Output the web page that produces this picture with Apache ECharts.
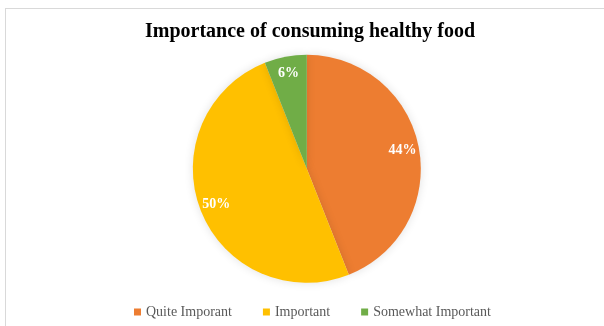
<!DOCTYPE html>
<html>
<head>
<meta charset="utf-8">
<script src="https://cdn.jsdelivr.net/npm/echarts@6/dist/echarts.min.js"></script>
<style>
  html, body { margin: 0; padding: 0; background: #ffffff; }
  #frame { position: absolute; left: 5px; top: 8px; width: 604px; height: 322px; border: 1px solid #d9d9d9; box-sizing: border-box; }
  #chart { position: absolute; left: 0; top: 0; width: 604px; height: 326px; }
</style>
</head>
<body>
<div id="frame"></div>
<div id="chart"></div>
<script>
const titleText = 'Importance of consuming healthy food';
const categories = ['Quite Imporant', 'Important', 'Somewhat Important'];
const values = [44, 50, 6];
const colors = ['#ED7D31', '#FFC000', '#70AD47'];

const chart = echarts.init(document.getElementById('chart'), null, { renderer: 'canvas' });
const R = 114;
const center = ['50.8%', '51.8%'];
const pieData = categories.map((c, i) => ({ name: c, value: values[i], itemStyle: { color: colors[i] } }));
const labelData = categories.map((c, i) => ({ name: c, value: values[i] }));

chart.setOption({
  backgroundColor: 'transparent',
  animation: false,
  title: {
    text: titleText,
    left: 140,
    top: 17,
    textStyle: { fontFamily: 'Liberation Serif', fontWeight: 'bold', fontSize: 20, color: '#000000' }
  },
  legend: {
    bottom: 2,
    left: 129,
    icon: 'rect',
    itemWidth: 7,
    itemHeight: 7,
    itemGap: 31,
    textStyle: { fontFamily: 'Liberation Serif', fontSize: 14, color: '#595959' },
    data: categories.map((c, i) => ({ name: c, itemStyle: { color: colors[i] } }))
  },
  series: [
    {
      type: 'pie',
      center: center,
      radius: [0, R],
      startAngle: 90,
      clockwise: true,
      label: { show: false },
      labelLine: { show: false },
      itemStyle: { borderWidth: 0, shadowBlur: 10, shadowColor: 'rgba(0,0,0,0.12)' },
      emphasis: { disabled: true },
      data: pieData
    },
    {
      type: 'pie',
      center: center,
      radius: [0, Math.round(R * 1.66)],
      startAngle: 90,
      clockwise: true,
      silent: true,
      legendHoverLink: false,
      itemStyle: { color: 'rgba(0,0,0,0)', borderWidth: 0 },
      label: {
        show: true,
        position: 'inside',
        formatter: (p) => p.value + '%',
        fontFamily: 'Liberation Serif',
        fontWeight: 'bold',
        fontSize: 14,
        color: '#ffffff'
      },
      labelLine: { show: false },
      emphasis: { disabled: true },
      data: labelData
    }
  ]
});
</script>
</body>
</html>
